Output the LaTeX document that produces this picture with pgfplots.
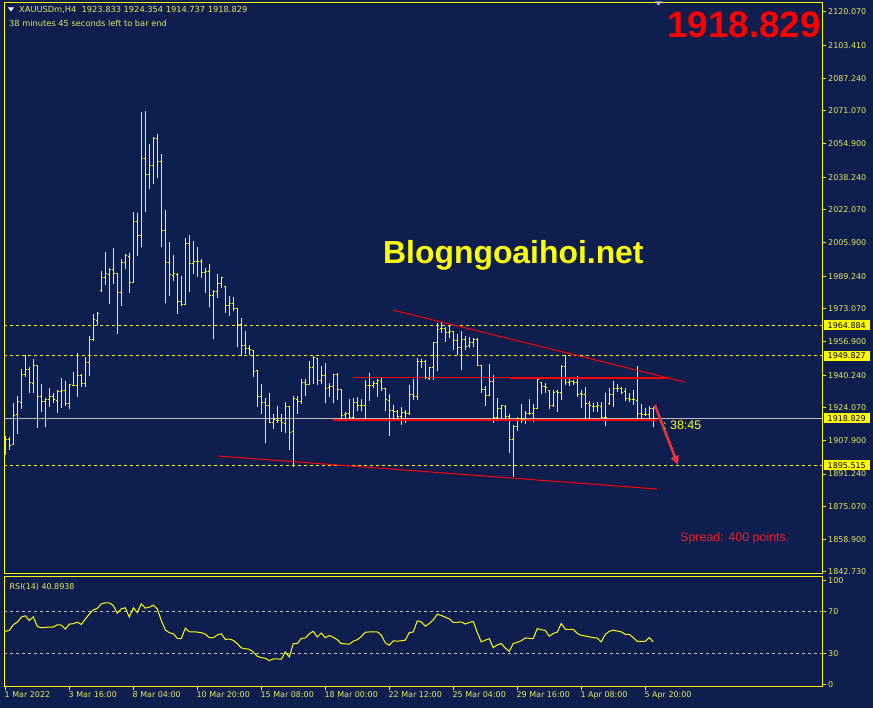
\documentclass[border=0pt]{standalone}
\usepackage{fontspec}
\setmainfont{DejaVu Sans}
\newfontfamily\arial{Liberation Sans}
\usepackage{pgfplots}
\usepackage{pgfplotstable}
\pgfplotsset{compat=1.18}
\usetikzlibrary{arrows.meta}
\definecolor{bgnavy}{RGB}{14,30,78}
\definecolor{mtyel}{RGB}{255,255,0}
\definecolor{labyel}{RGB}{232,232,90}
\definecolor{silv}{RGB}{192,192,192}
\definecolor{arrred}{RGB}{232,52,62}
\definecolor{txtred}{RGB}{235,30,40}

% open tick (left) and close tick (right)
\pgfdeclareplotmark{ohlcL}{\pgfpathmoveto{\pgfpoint{-1.7bp}{0pt}}\pgfpathlineto{\pgfpoint{0pt}{0pt}}\pgfusepathqstroke}
\pgfdeclareplotmark{ohlcR}{\pgfpathmoveto{\pgfpoint{0pt}{0pt}}\pgfpathlineto{\pgfpoint{1.7bp}{0pt}}\pgfusepathqstroke}

% XAUUSDm H4 bars: index, open, high, low, close
\pgfplotstableread{
i o h l c
0 1906.0 1910.08 1900.67 1908.10
1 1908.1 1909.58 1903.15 1905.62
2 1906.0 1926.57 1905.62 1920.48
3 1920.5 1930.04 1910.92 1926.92
4 1926.9 1943.41 1923.30 1940.64
5 1940.6 1950.05 1939.45 1942.77
6 1942.8 1944.40 1931.23 1936.33
7 1936.3 1948.36 1931.53 1945.10
8 1945.1 1945.10 1913.89 1929.40
9 1929.4 1935.83 1922.12 1927.41
10 1927.4 1928.75 1914.69 1928.26
11 1928.3 1933.85 1924.59 1929.40
12 1929.4 1931.53 1926.28 1927.91
13 1927.9 1932.86 1921.62 1932.22
14 1932.2 1938.81 1923.80 1932.71
15 1932.7 1937.17 1924.94 1926.28
16 1926.3 1935.83 1923.30 1935.34
17 1935.3 1941.78 1934.84 1935.19
18 1935.2 1951.04 1929.54 1939.80
19 1939.8 1940.64 1934.20 1936.18
20 1936.2 1949.21 1934.20 1946.58
21 1946.6 1959.61 1939.94 1957.97
22 1958.0 1970.35 1956.98 1967.53
23 1967.5 1971.49 1964.91 1970.50
24 1982.0 1991.80 1981.55 1988.68
25 1988.7 2001.21 1985.01 1990.31
26 1990.3 1993.13 1975.60 1992.50
27 1992.5 2003.19 1985.51 1990.66
28 1990.7 1990.96 1960.75 1981.25
29 1981.3 1997.74 1974.61 1996.11
30 1996.1 2000.22 1992.64 1999.23
31 1999.2 2000.72 1981.05 1986.20
32 1986.2 2021.02 1985.71 2016.41
33 2016.4 2020.52 1999.37 2009.48
34 2009.5 2070.39 2003.53 2047.61
35 2047.6 2071.04 2021.17 2039.69
36 2039.7 2054.84 2032.56 2044.15
37 2044.2 2058.16 2035.03 2057.32
38 2057.3 2059.65 2038.00 2046.13
39 2046.1 2049.74 2003.83 2011.95
40 2012.0 2022.01 1976.10 1996.11
41 1996.1 2006.16 1979.56 1989.82
42 1989.8 1999.72 1986.99 1990.31
43 1990.3 1990.66 1970.65 1976.79
44 1976.8 1989.32 1974.81 1974.96
45 1975.0 2008.14 1974.81 2005.52
46 2005.5 2009.63 1981.55 1995.61
47 1995.6 2006.65 1990.46 1996.60
48 1996.6 2003.68 1988.68 1996.60
49 1996.6 1997.59 1988.48 1991.15
50 1991.2 1993.13 1981.05 1991.65
51 1991.7 1995.41 1973.82 1979.76
52 1979.8 1982.39 1958.27 1981.40
53 1981.4 1990.31 1978.43 1985.71
54 1985.7 1988.97 1983.38 1988.68
55 1984.0 1984.37 1970.85 1974.81
56 1974.8 1979.42 1969.66 1975.80
57 1975.8 1978.77 1972.14 1972.98
58 1973.0 1973.62 1954.31 1965.20
59 1965.2 1968.52 1949.55 1955.00
60 1955.0 1961.93 1950.69 1953.17
61 1953.2 1955.15 1950.34 1952.82
62 1952.6 1952.67 1939.45 1942.27
63 1942.3 1942.77 1924.59 1929.40
64 1929.4 1935.83 1920.83 1926.77
65 1926.8 1929.05 1906.76 1925.43
66 1925.4 1931.38 1916.67 1916.87
67 1916.9 1920.83 1913.70 1918.01
68 1918.0 1925.09 1916.37 1917.86
69 1917.9 1920.83 1911.91 1916.52
70 1916.5 1927.07 1911.71 1924.59
71 1924.6 1925.09 1903.30 1912.06
72 1912.1 1929.89 1894.88 1928.41
73 1928.4 1929.89 1920.83 1927.41
74 1927.4 1938.16 1925.78 1936.82
75 1936.8 1938.16 1930.04 1935.69
76 1935.7 1947.22 1935.19 1943.76
77 1943.8 1949.85 1935.69 1948.71
78 1948.7 1948.86 1935.49 1937.67
79 1937.7 1944.90 1935.98 1939.94
80 1939.9 1946.09 1926.28 1933.85
81 1933.9 1936.18 1929.54 1934.84
82 1934.8 1940.94 1926.28 1940.29
83 1940.3 1941.43 1927.91 1933.21
84 1933.2 1933.21 1918.35 1920.48
85 1920.5 1921.97 1918.01 1921.32
86 1921.3 1928.26 1918.01 1919.00
87 1919.0 1929.05 1918.50 1926.77
88 1926.8 1929.25 1922.61 1925.29
89 1925.3 1928.55 1922.61 1925.29
90 1925.3 1937.82 1918.01 1935.19
91 1935.2 1941.43 1927.56 1935.19
92 1935.2 1937.32 1933.85 1936.18
93 1936.2 1938.31 1929.54 1937.32
94 1937.3 1938.95 1932.22 1933.51
95 1933.5 1933.85 1922.61 1927.91
96 1927.9 1930.88 1910.23 1922.61
97 1922.6 1925.29 1918.01 1922.12
98 1922.1 1922.96 1918.01 1919.64
99 1919.6 1924.59 1915.53 1921.82
100 1921.8 1922.96 1916.37 1921.32
101 1921.3 1935.34 1920.33 1930.39
102 1930.4 1938.16 1927.91 1929.54
103 1929.5 1948.56 1927.91 1947.22
104 1947.2 1948.07 1943.76 1946.88
105 1946.9 1947.57 1938.31 1938.81
106 1938.8 1944.25 1937.82 1943.91
107 1943.9 1956.78 1937.82 1956.49
108 1956.5 1966.19 1942.27 1963.07
109 1963.1 1966.54 1960.94 1963.22
110 1963.2 1964.21 1956.49 1961.44
111 1961.4 1964.91 1958.62 1961.59
112 1961.6 1962.23 1952.67 1957.28
113 1957.3 1960.60 1950.20 1954.01
114 1954.0 1961.93 1942.77 1957.97
115 1958.0 1959.75 1952.52 1954.65
116 1954.7 1959.26 1953.81 1956.29
117 1956.3 1958.76 1954.31 1957.97
118 1958.0 1958.62 1944.90 1945.24
119 1945.2 1945.24 1931.53 1933.21
120 1933.2 1934.84 1924.94 1930.04
121 1930.0 1945.89 1929.89 1936.97
122 1937.0 1940.44 1916.67 1919.34
123 1919.3 1928.75 1918.01 1923.80
124 1923.8 1925.43 1918.85 1924.94
125 1924.9 1925.43 1918.01 1919.64
126 1919.6 1920.98 1901.51 1908.10
127 1908.1 1915.38 1889.92 1915.03
128 1915.0 1919.64 1912.56 1918.85
129 1918.9 1925.93 1916.67 1918.35
130 1918.4 1922.31 1915.88 1921.32
131 1921.3 1928.26 1920.48 1921.32
132 1921.3 1925.78 1917.16 1923.60
133 1923.6 1938.16 1923.45 1937.82
134 1936.5 1936.68 1930.73 1934.50
135 1934.5 1936.48 1931.23 1934.20
136 1932.8 1932.86 1923.45 1925.29
137 1925.3 1932.86 1924.59 1931.87
138 1931.9 1932.86 1922.12 1931.53
139 1931.5 1945.10 1927.91 1944.40
140 1944.4 1950.05 1935.19 1936.48
141 1936.5 1938.16 1934.99 1937.17
142 1937.2 1937.82 1935.34 1936.82
143 1936.8 1939.80 1929.54 1930.88
144 1930.9 1932.86 1923.80 1930.39
145 1930.4 1934.35 1918.35 1926.42
146 1926.4 1927.41 1918.01 1924.94
147 1924.9 1926.28 1922.12 1924.59
148 1924.6 1927.07 1922.12 1924.94
149 1924.9 1927.07 1918.85 1919.34
150 1919.3 1931.23 1915.03 1919.00
151 1926.0 1933.70 1925.43 1930.39
152 1930.4 1937.32 1924.59 1933.70
153 1933.7 1935.69 1932.02 1933.70
154 1933.7 1934.50 1930.73 1931.87
155 1931.9 1933.70 1927.41 1928.75
156 1928.8 1931.23 1927.07 1928.26
157 1928.3 1932.86 1925.43 1927.91
158 1927.9 1944.75 1918.01 1920.98
159 1921.0 1925.78 1918.01 1920.83
160 1920.8 1923.80 1919.99 1920.83
161 1920.8 1925.09 1918.01 1923.80
162 1923.833 1924.354 1914.737 1918.829
}\ohlc

% RSI(14)
\pgfplotstableread{
i r
0 51.0
1 51.9
2 57.3
3 59.8
4 64.6
5 65.9
6 61.4
7 64.9
8 55.7
9 54.4
10 54.8
11 55.1
12 55.1
13 57.3
14 57.0
15 53.2
16 57.9
17 58.3
18 59.8
19 57.6
20 62.7
21 67.5
22 71.6
23 72.9
24 77.3
25 78.3
26 78.3
27 75.7
28 68.4
29 72.5
30 73.5
31 64.6
32 73.5
33 69.0
34 77.3
35 73.2
36 74.1
37 76.0
38 72.5
39 61.4
40 52.5
41 49.7
42 48.7
43 44.3
44 44.0
45 54.1
46 50.6
47 50.6
48 50.3
49 49.7
50 48.4
51 44.9
52 44.9
53 47.5
54 48.7
55 43.3
56 43.6
57 42.4
58 39.2
59 35.1
60 34.4
61 33.8
62 31.3
63 27.1
64 25.9
65 25.2
66 23.0
67 24.6
68 24.6
69 24.3
70 31.3
71 26.5
72 39.2
73 39.2
74 44.3
75 44.6
76 48.7
77 51.0
78 45.6
79 49.4
80 44.9
81 47.0
82 45.3
83 43.0
84 39.3
85 39.0
86 38.7
87 41.5
88 43.0
89 46.0
90 50.2
91 50.4
92 50.5
93 50.6
94 47.4
95 40.0
96 37.7
97 41.9
98 41.6
99 42.0
100 42.6
101 49.8
102 50.4
103 61.0
104 60.1
105 55.9
106 58.5
107 62.0
108 67.4
109 66.2
110 64.5
111 63.0
112 59.5
113 59.5
114 60.1
115 58.0
116 59.5
117 60.5
118 50.0
119 40.9
120 42.5
121 44.0
122 35.4
123 38.0
124 39.3
125 35.0
126 31.9
127 39.3
128 40.5
129 42.0
130 44.7
131 44.3
132 44.0
133 53.7
134 52.5
135 52.0
136 46.3
137 49.0
138 50.2
139 58.5
140 53.0
141 52.8
142 53.0
143 49.0
144 47.2
145 46.5
146 45.7
147 45.0
148 44.5
149 40.9
150 48.0
151 51.0
152 52.1
153 51.3
154 50.5
155 48.2
156 48.2
157 45.0
158 41.5
159 41.5
160 41.5
161 45.0
162 40.8938
}\rsi

\begin{document}
\begin{tikzpicture}
\path[use as bounding box] (0,0) rectangle (873bp,708bp);
\fill[bgnavy] (0,0) rectangle (873bp,708bp);

% ---- price panel ----
\begin{axis}[at={(4bp,134bp)}, anchor=south west, scale only axis,
  width=818bp, height=571bp,
  xmin=-0.325, xmax=204.2, ymin=1841.74, ymax=2124.52,
  axis line style={mtyel, line width=1bp},
  xtick=\empty,
  ytick={2120.07,2103.41,2087.24,2071.07,2054.90,2038.24,2022.07,2005.90,1989.24,1973.07,1956.90,1940.24,1924.07,1907.90,1891.24,1875.07,1858.90,1842.73},
  yticklabels={2120.070,2103.410,2087.240,2071.070,2054.900,2038.240,2022.070,2005.900,1989.240,1973.070,1956.900,1940.240,1924.070,1907.900,1891.240,1875.070,1858.900,1842.730},
  ytick pos=right, yticklabel pos=right, tick align=outside,
  major tick length=4bp, tick style={mtyel, line width=1bp},
  yticklabel style={font=\fontsize{8}{9}\selectfont, text=labyel, inner xsep=2bp},
  clip=false]
% horizontal levels
\addplot[mtyel, line width=1bp, dash pattern=on 3bp off 3bp] coordinates {(-0.325,1964.884) (204.2,1964.884)};
\addplot[mtyel, line width=1bp, dash pattern=on 3bp off 3bp] coordinates {(-0.325,1949.827) (204.2,1949.827)};
\addplot[mtyel, line width=1bp, dash pattern=on 3bp off 3bp] coordinates {(-0.325,1895.515) (204.2,1895.515)};
\addplot[silv, line width=1bp] coordinates {(-0.325,1918.829) (204.2,1918.829)};
% OHLC bars
\addplot[only marks, mark=ohlcR, mark options={mtyel, line width=1bp},
  error bars/.cd, y dir=both, y explicit, error mark=none,
  error bar style={mtyel, line width=1bp}]
  table[x=i, y=c, y error plus expr=\thisrow{h}-\thisrow{c}, y error minus expr=\thisrow{c}-\thisrow{l}] {\ohlc};
\addplot[only marks, mark=ohlcL, mark options={mtyel, line width=1bp}] table[x=i, y=o] {\ohlc};
% drawn objects
\addplot[red, line width=1bp] coordinates {(53.2,1900.18) (162.9,1883.83)};
\addplot[red, line width=1bp] coordinates {(96.9,1972.48) (169.9,1936.82)};
\addplot[red, line width=0.8bp] coordinates {(86.9,1939.3) (126.2,1939.3)};
\addplot[red, line width=1.6bp] coordinates {(126.2,1938.8) (165.7,1938.8)};
\addplot[red, line width=1.8bp] coordinates {(82.0,1918.01) (162.9,1918.01)};
\addplot[arrred, line width=2.6bp, -{Triangle[length=9bp,width=8bp]}] coordinates {(162.4,1925.43) (168.2,1895.72)};
% price boxes on the scale
\foreach \v in {1964.884,1949.827,1918.829,1895.515}{
  \edef\tmp{\noexpand\node[fill=mtyel, text=black, font=\noexpand\fontsize{8}{9}\noexpand\selectfont,
    inner sep=0pt, minimum width=45.6bp, minimum height=10bp, anchor=west, xshift=1.7bp]
    at (axis cs:204.2,\v) {\v};}\tmp
}
\end{axis}

% ---- RSI panel ----
\begin{axis}[at={(4bp,22bp)}, anchor=south west, scale only axis,
  width=818bp, height=109bp,
  xmin=-0.325, xmax=204.2, ymin=-1.3, ymax=103,
  axis line style={mtyel, line width=1bp},
  ytick={0,30,70,100}, yticklabels={0,30,70,100},
  ytick pos=right, yticklabel pos=right,
  xtick={0,16,32,48,64,80,96,112,128,144,160},
  xticklabels={1 Mar 2022,3 Mar 16:00,8 Mar 04:00,10 Mar 20:00,15 Mar 08:00,18 Mar 00:00,22 Mar 12:00,25 Mar 04:00,29 Mar 16:00,1 Apr 08:00,5 Apr 20:00},
  xtick pos=bottom, tick align=outside,
  major tick length=4bp, tick style={mtyel, line width=1bp},
  yticklabel style={font=\fontsize{8}{9}\selectfont, text=labyel, inner xsep=2bp},
  xticklabel style={font=\fontsize{8}{9}\selectfont, text=labyel, anchor=north west, inner xsep=0pt, inner ysep=1bp, xshift=-0.8bp},
  clip=false]
\addplot[silv, line width=1bp, dash pattern=on 3bp off 3bp] coordinates {(-0.325,70) (204.2,70)};
\addplot[silv, line width=1bp, dash pattern=on 3bp off 3bp] coordinates {(-0.325,30) (204.2,30)};
\addplot[mtyel, line width=1bp] table[x=i, y=r] {\rsi};
\end{axis}

% ---- texts ----
\fill[white] (8bp,700.5bp) -- (14bp,700.5bp) -- (11bp,696.5bp) -- cycle;
\node[anchor=west, inner sep=0pt, text=labyel, font=\fontsize{8.3}{9}\selectfont] at (19bp,698.5bp)
  {XAUUSDm,H4\ \ 1923.833 1924.354 1914.737 1918.829};
\node[anchor=west, inner sep=0pt, text=labyel, font=\fontsize{8.3}{9}\selectfont] at (9bp,685bp)
  {38 minutes 45 seconds left to bar end};
\fill[silv] (655bp,706.5bp) -- (662bp,706.5bp) -- (658.5bp,702.5bp) -- cycle;
\node[anchor=base west, inner sep=0pt, text=red, font=\arial\bfseries\fontsize{37}{40}\selectfont] at (667bp,670bp) {1918.829};
\node[anchor=base west, inner sep=0pt, text=mtyel, font=\arial\bfseries\fontsize{32}{36}\selectfont] at (383bp,444bp) {Blogngoaihoi.net};
\node[anchor=west, inner sep=0pt, text=mtyel, font=\arial\fontsize{12.5}{14}\selectfont] at (663bp,283bp) {:\ 38:45};
\node[anchor=west, inner sep=0pt, text=txtred, font=\arial\fontsize{12.5}{14}\selectfont] at (680bp,170bp) {Spread: 400 points.};
\node[anchor=west, inner sep=0pt, text=labyel, font=\fontsize{8}{9}\selectfont] at (9.5bp,121bp) {RSI(14) 40.8938};
\end{tikzpicture}
\end{document}
